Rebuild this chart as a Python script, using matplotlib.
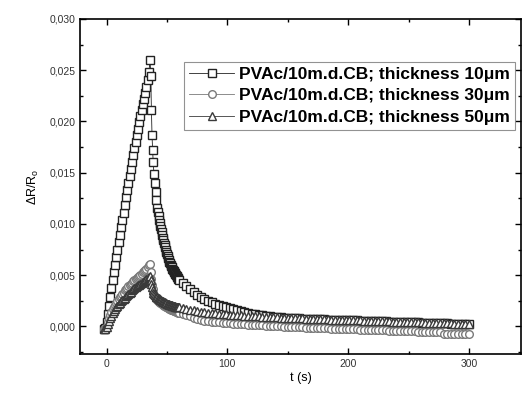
"""
Respuesta resistiva dR/R0 de PVAc/10m.d.CB para tres espesores
"""

import matplotlib
matplotlib.use('Agg')
import matplotlib.pyplot as plt
from matplotlib.ticker import FuncFormatter, MultipleLocator

plt.rcParams['font.family'] = ['Liberation Sans', 'DejaVu Sans']

# tiempos (s): subida comun y bajada comun
t_subida = [-2, -1, 0, 1, 2, 3, 4, 5, 6, 7, 8, 9, 10, 11, 12, 13, 14, 15, 16, 17,
            18, 19, 20, 21, 22, 23, 24, 25, 26, 27, 28, 29, 30, 31, 32, 33, 34, 35, 36]
t_bajada = [36.6, 37.1, 37.6, 38.1, 38.6, 39.2, 39.8, 40.5, 41.2,
            42, 42.5, 43, 43.5, 44, 44.5, 45, 45.5, 46, 46.5, 47, 47.5, 48, 48.5,
            49, 49.5, 50, 50.5, 51, 51.5, 52, 52.5, 53, 53.5, 54, 54.5, 55, 55.5,
            56, 56.5, 57, 57.5, 58, 58.5, 59, 59.5,
            60, 63, 66, 69, 72, 75, 78, 81, 84, 87, 90, 93, 96, 99, 102, 105, 108,
            111, 114, 117, 120, 123, 126, 129, 132, 135, 138, 141, 144, 147, 150,
            153, 156, 159, 162, 165, 168, 171, 174, 177, 180, 183, 186, 189, 192,
            195, 198, 201, 204, 207, 210, 213, 216, 219, 222, 225, 228, 231, 234,
            237, 240, 243, 246, 249,
            252, 255, 258, 261, 264, 267, 270, 273, 276, 279, 282, 285, 288, 291,
            294, 297, 300]

# espesor 10 um
sub_10 = [-0.0003, -0.0002, 0.0004, 0.0012, 0.0020, 0.0029, 0.0037, 0.0045, 0.0053, 0.0060,
          0.0068, 0.0075, 0.0082, 0.0089, 0.0097, 0.0104, 0.0111, 0.0118, 0.0126, 0.0133,
          0.0140, 0.0147, 0.0154, 0.0160, 0.0167, 0.0174, 0.0180, 0.0187, 0.0193, 0.0199,
          0.0205, 0.0211, 0.0217, 0.0222, 0.0228, 0.0234, 0.0240, 0.0248, 0.0260]
baj_10 = [0.0244, 0.0211, 0.0187, 0.0172, 0.0160, 0.0149, 0.0140, 0.0131, 0.0123,
          0.0116, 0.0112, 0.0108, 0.0104, 0.0101, 0.0098, 0.0095, 0.0092, 0.0089, 0.0086,
          0.0084, 0.0081, 0.0079, 0.0077, 0.0075, 0.0073, 0.0071, 0.0069, 0.0067, 0.0065,
          0.0063, 0.0062, 0.0060, 0.0059, 0.0058, 0.0056, 0.0055, 0.0054, 0.0053, 0.0052,
          0.0051, 0.0050, 0.0049, 0.0048, 0.0047, 0.0046,
          0.0045, 0.0042, 0.0039, 0.0036, 0.0034, 0.0031, 0.0029, 0.0027, 0.0025, 0.0024,
          0.0022, 0.0021, 0.0020, 0.0019, 0.0018, 0.0017, 0.0016, 0.0015, 0.0014, 0.0013,
          0.0012, 0.0012, 0.0011, 0.0011, 0.0010, 0.0010, 0.0009, 0.0009, 0.0009, 0.0008,
          0.0008,
          0.0008, 0.0008, 0.0008, 0.0007, 0.0007, 0.0007, 0.0007, 0.0007, 0.0007, 0.0007,
          0.0006, 0.0006, 0.0006, 0.0006,
          0.0006, 0.0006, 0.0006, 0.0006, 0.0006, 0.0005, 0.0005, 0.0005, 0.0005, 0.0005,
          0.0005, 0.0005, 0.0005, 0.0004, 0.0004, 0.0004, 0.0004, 0.0004, 0.0004,
          0.0004, 0.0004, 0.0004, 0.0003, 0.0003, 0.0003, 0.0003, 0.0003, 0.0003, 0.0003,
          0.0003, 0.0002, 0.0002, 0.0002, 0.0002, 0.0002, 0.0002]

# espesor 30 um
sub_30 = [-0.0003, -0.0003, 0.0000, 0.0004, 0.0008, 0.0011, 0.0014, 0.0017, 0.0019, 0.0021,
          0.0023, 0.0025, 0.0027, 0.0029, 0.0030, 0.0032, 0.0033, 0.0035, 0.0036, 0.0037,
          0.0039, 0.0040, 0.0041, 0.0042, 0.0044, 0.0045, 0.0046, 0.0047, 0.0048, 0.0049,
          0.0050, 0.0051, 0.0053, 0.0054, 0.0055, 0.0056, 0.0058, 0.0060, 0.0061]
baj_30 = [0.0053, 0.0046, 0.0040, 0.0036, 0.0033, 0.0031, 0.0029, 0.0028, 0.0027,
          0.0026, 0.0025, 0.0025, 0.0024, 0.0024, 0.0023, 0.0023, 0.0022, 0.0022, 0.0021,
          0.0021, 0.0020, 0.0020, 0.0020, 0.0019, 0.0019, 0.0019, 0.0018, 0.0018, 0.0018,
          0.0017, 0.0017, 0.0017, 0.0016, 0.0016, 0.0016, 0.0016, 0.0015, 0.0015, 0.0015,
          0.0015, 0.0014, 0.0014, 0.0014, 0.0014, 0.0013,
          0.0013, 0.0012, 0.0011, 0.0010, 0.0008, 0.0007, 0.0006, 0.0005, 0.0005, 0.0004,
          0.0004, 0.0004, 0.0003, 0.0003, 0.0003, 0.0002, 0.0002, 0.0002, 0.0002, 0.0001,
          0.0001, 0.0001, 0.0001, 0.0001, 0.0000, 0.0000, 0.0000, 0.0000, 0.0000, -0.0001,
          -0.0001,
          -0.0001, -0.0001, -0.0001, -0.0001, -0.0002, -0.0002, -0.0002, -0.0002, -0.0002, -0.0002,
          -0.0002, -0.0003, -0.0003, -0.0003,
          -0.0003, -0.0003, -0.0003, -0.0003, -0.0003, -0.0004, -0.0004, -0.0004, -0.0004, -0.0004,
          -0.0004, -0.0004, -0.0004, -0.0005, -0.0005, -0.0005, -0.0005, -0.0005, -0.0005,
          -0.0005, -0.0005, -0.0006, -0.0006, -0.0006, -0.0006, -0.0006, -0.0006, -0.0006,
          -0.0007, -0.0007, -0.0007, -0.0007, -0.0007, -0.0007, -0.0007, -0.0007]

# espesor 50 um
sub_50 = [-0.0003, -0.0003, -0.0001, 0.0002, 0.0005, 0.0008, 0.0010, 0.0013, 0.0015, 0.0017,
          0.0019, 0.0020, 0.0022, 0.0023, 0.0025, 0.0026, 0.0027, 0.0028, 0.0030, 0.0031,
          0.0032, 0.0033, 0.0034, 0.0035, 0.0036, 0.0037, 0.0038, 0.0039, 0.0040, 0.0040,
          0.0041, 0.0042, 0.0043, 0.0044, 0.0045, 0.0046, 0.0047, 0.0048, 0.0049]
baj_50 = [0.0045, 0.0041, 0.0038, 0.0035, 0.0033, 0.0032, 0.0031, 0.0030, 0.0029,
          0.0029, 0.0028, 0.0028, 0.0027, 0.0027, 0.0026, 0.0026, 0.0025, 0.0025, 0.0025,
          0.0024, 0.0024, 0.0024, 0.0023, 0.0023, 0.0023, 0.0022, 0.0022, 0.0022, 0.0022,
          0.0021, 0.0021, 0.0021, 0.0021, 0.0021, 0.0020, 0.0020, 0.0020, 0.0020, 0.0020,
          0.0019, 0.0019, 0.0019, 0.0019, 0.0019, 0.0019,
          0.0019, 0.0018, 0.0017, 0.0016, 0.0016, 0.0015, 0.0014, 0.0014, 0.0013, 0.0013,
          0.0013, 0.0012, 0.0012, 0.0012, 0.0011, 0.0011, 0.0011, 0.0011, 0.0010, 0.0010,
          0.0010, 0.0010, 0.0010, 0.0009, 0.0009, 0.0009, 0.0009, 0.0009, 0.0008, 0.0008,
          0.0008,
          0.0008, 0.0008, 0.0008, 0.0008, 0.0007, 0.0007, 0.0007, 0.0007, 0.0007, 0.0007,
          0.0007, 0.0006, 0.0006, 0.0006,
          0.0006, 0.0006, 0.0006, 0.0006, 0.0006, 0.0006, 0.0005, 0.0005, 0.0005, 0.0005,
          0.0005, 0.0005, 0.0005, 0.0005, 0.0004, 0.0004, 0.0004, 0.0004, 0.0004,
          0.0004, 0.0004, 0.0004, 0.0004, 0.0003, 0.0003, 0.0003, 0.0003, 0.0003, 0.0003,
          0.0003, 0.0003, 0.0002, 0.0002, 0.0002, 0.0002, 0.0002]

etiquetas = ['PVAc/10m.d.CB; thickness 10μm',
             'PVAc/10m.d.CB; thickness 30μm',
             'PVAc/10m.d.CB; thickness 50μm']

tiempo = t_subida + t_bajada
series = [sub_10 + baj_10, sub_30 + baj_30, sub_50 + baj_50]
marcadores = ['s', 'o', '^']
colores = ['#222222', '#7a7a7a', '#3a3a3a']

fig = plt.figure(figsize=(5.23, 4.0), dpi=100)
ax = fig.add_axes([0.153, 0.115, 0.843, 0.8375])

for y, m, c, lab in zip(series, marcadores, colores, etiquetas):
    ax.plot(tiempo, y, marker=m, color=c, linewidth=0.6, markersize=5.5,
            markerfacecolor='white', markeredgecolor=c, markeredgewidth=1.0,
            label=lab)

ax.set_xlim(-22, 343)
ax.set_ylim(-0.0027, 0.030)
ax.xaxis.set_major_locator(MultipleLocator(100))
ax.xaxis.set_minor_locator(MultipleLocator(50))
ax.yaxis.set_major_locator(MultipleLocator(0.005))
ax.yaxis.set_minor_locator(MultipleLocator(0.0025))
ax.yaxis.set_major_formatter(FuncFormatter(lambda v, p: f'{v:.3f}'.replace('.', ',')))
ax.tick_params(which='both', direction='in', top=True, right=True,
               labelsize=7.5, labelcolor='#333333', width=1)
ax.tick_params(which='major', length=4)
ax.tick_params(which='minor', length=2.5)
for s in ax.spines.values():
    s.set_linewidth(1.2)

ax.set_xlabel('t (s)', fontsize=9, labelpad=2)
ax.set_ylabel('ΔR/R$_\\mathregular{o}$', fontsize=9, labelpad=6)

leg = ax.legend(loc='upper right', bbox_to_anchor=(0.986, 0.872),
                prop={'weight': 'bold', 'size': 12.5}, frameon=True, fancybox=False,
                edgecolor='#777777', handlelength=2.6, handletextpad=0.25,
                borderpad=0.3, labelspacing=0.35, borderaxespad=0)
leg.get_frame().set_linewidth(0.8)

plt.savefig('out.png', dpi=100)
plt.close()
